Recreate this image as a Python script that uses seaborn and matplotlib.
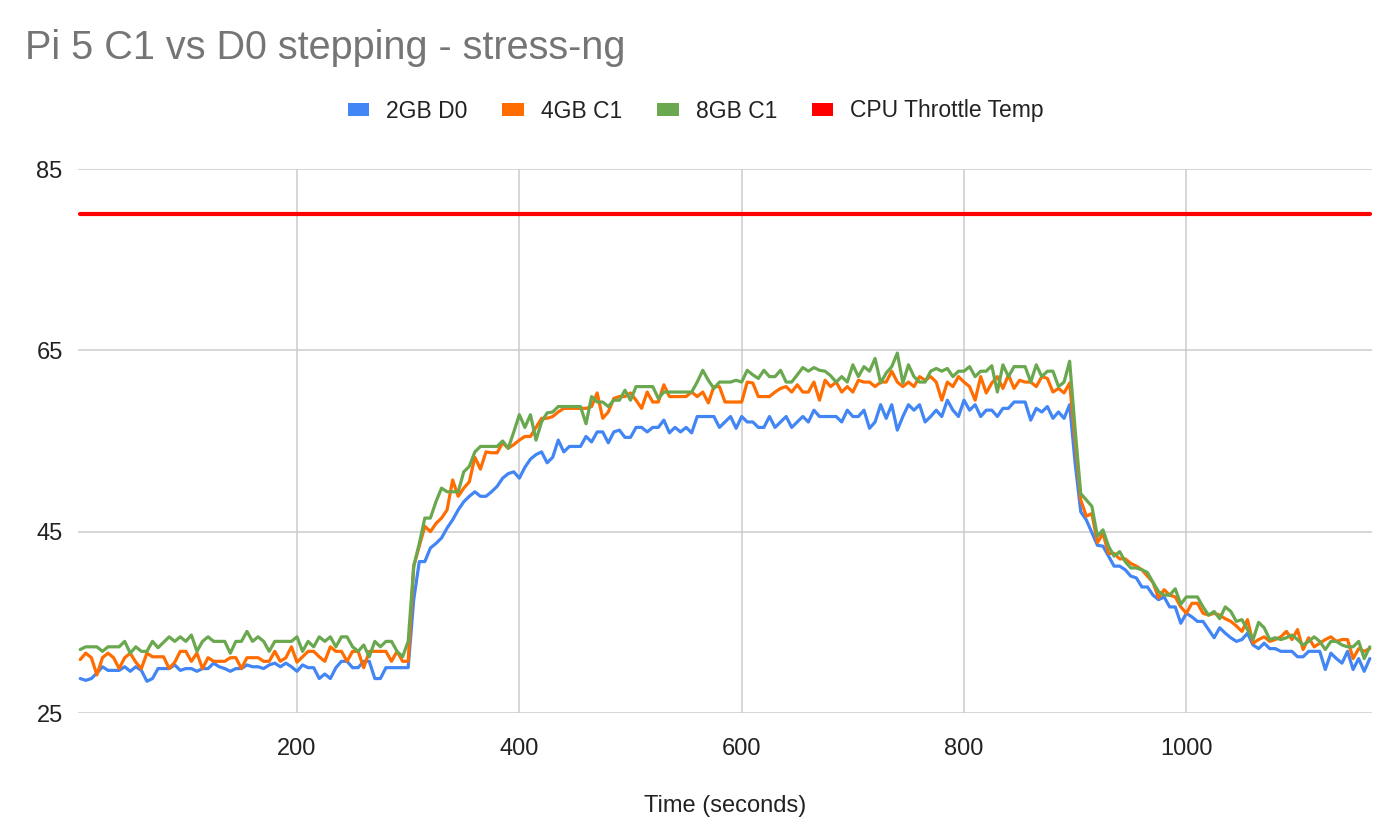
import matplotlib
matplotlib.use("Agg")
import matplotlib.pyplot as plt
from matplotlib.patches import Patch
import seaborn as sns
import pandas as pd

# ---------------- data ----------------
times = list(range(5, 1170, 5))  # sample times (s)

blue_2gb_d0 = [
    28.8, 28.6, 28.8, 29.4, 30.1, 29.7, 29.7, 29.7, 30.1, 29.6,
    30.1, 29.7, 28.5, 28.8, 29.9, 29.9, 29.9, 30.3, 29.7, 29.9,
    29.9, 29.6, 29.9, 29.9, 30.5, 30.1, 29.9, 29.6, 29.9, 29.9,
    30.3, 30.1, 30.1, 29.9, 30.3, 30.5, 30.1, 30.5, 30.1, 29.6,
    30.3, 30.0, 30.0, 28.8, 29.3, 28.8, 30.0, 30.7, 30.7, 30.0,
    30.0, 30.7, 30.7, 28.8, 28.8, 30.0, 30.0, 30.0, 30.0, 30.0,
    37.5, 41.7, 41.7, 43.2, 43.7, 44.3, 45.4, 46.3, 47.4, 48.3,
    48.9, 49.4, 48.9, 48.9, 49.4, 50.0, 50.9, 51.4, 51.6, 50.9,
    52.1, 53.0, 53.5, 53.8, 52.6, 53.2, 55.1, 53.8, 54.4, 54.4,
    54.4, 55.5, 54.9, 56.0, 56.0, 54.8, 56.0, 56.2, 55.4, 55.4,
    56.5, 56.5, 56.0, 56.5, 56.5, 57.3, 55.9, 56.5, 56.0, 56.5,
    55.9, 57.7, 57.7, 57.7, 57.7, 56.5, 57.1, 57.7, 56.4, 57.7,
    57.1, 57.1, 56.5, 56.5, 57.7, 56.5, 57.1, 57.7, 56.5, 57.1,
    57.7, 57.1, 58.4, 57.7, 57.7, 57.7, 57.7, 57.1, 58.4, 57.7,
    57.7, 58.4, 56.4, 57.1, 59.0, 57.5, 59.0, 56.2, 57.7, 59.0,
    58.4, 59.0, 57.1, 57.7, 58.4, 57.7, 59.5, 58.4, 57.7, 59.5,
    58.4, 59.0, 57.7, 58.4, 58.4, 57.7, 58.6, 58.6, 59.3, 59.3,
    59.3, 57.3, 58.6, 58.2, 58.8, 57.5, 58.2, 57.5, 59.0, 52.5,
    47.2, 46.3, 44.9, 43.5, 43.4, 42.3, 41.2, 41.2, 40.8, 40.1,
    39.9, 38.9, 38.9, 38.0, 37.5, 37.8, 36.7, 36.7, 34.9, 36.0,
    35.6, 35.1, 35.1, 34.2, 33.3, 34.4, 33.8, 33.3, 32.9, 33.1,
    33.8, 32.5, 32.1, 32.7, 32.1, 32.1, 31.8, 31.8, 31.8, 31.2,
    31.2, 31.8, 31.8, 31.8, 29.8, 31.6, 31.0, 30.5, 31.8, 29.8,
    31.0, 29.6, 31.0,
]

orange_4gb_c1 = [
    30.9, 31.6, 31.1, 29.2, 31.1, 31.6, 31.1, 29.9, 31.1, 31.6,
    30.6, 29.9, 31.6, 31.2, 31.2, 31.2, 29.9, 30.6, 31.8, 31.8,
    30.7, 31.6, 29.9, 31.1, 30.7, 30.7, 30.7, 31.1, 31.1, 29.9,
    31.1, 31.1, 31.1, 30.7, 30.7, 31.8, 30.7, 31.1, 32.3, 30.6,
    31.2, 31.8, 31.8, 31.2, 30.7, 32.3, 31.8, 31.8, 30.7, 31.8,
    31.8, 30.0, 31.8, 31.8, 31.8, 31.8, 30.7, 31.8, 30.7, 30.7,
    41.2, 43.4, 45.6, 45.0, 45.9, 46.5, 47.4, 50.7, 48.9, 49.8,
    50.5, 53.2, 51.9, 53.8, 53.7, 53.7, 54.8, 54.2, 54.6, 55.1,
    55.5, 55.5, 56.5, 57.5, 57.5, 57.7, 58.2, 58.6, 58.6, 58.6,
    58.6, 58.6, 58.8, 60.3, 57.5, 58.2, 59.7, 59.9, 59.9, 60.3,
    59.5, 58.6, 60.4, 59.3, 59.3, 61.2, 59.9, 59.9, 59.9, 59.9,
    60.4, 59.9, 60.4, 59.2, 61.0, 61.0, 59.3, 59.3, 59.3, 59.3,
    61.5, 61.4, 59.9, 59.9, 59.9, 60.4, 60.8, 61.0, 60.4, 61.2,
    60.4, 60.4, 61.5, 59.5, 61.7, 61.0, 61.5, 60.4, 61.0, 60.4,
    61.7, 61.5, 61.5, 61.0, 61.5, 61.5, 62.7, 61.5, 61.0, 61.5,
    61.0, 62.1, 61.7, 62.1, 61.5, 59.5, 61.5, 61.0, 62.1, 61.5,
    61.0, 59.5, 62.1, 60.3, 61.4, 62.1, 60.8, 62.3, 60.8, 61.7,
    61.5, 61.5, 61.0, 62.1, 61.9, 60.4, 60.8, 60.3, 61.4, 55.0,
    48.5, 46.7, 47.0, 43.8, 44.8, 42.6, 42.6, 42.0, 42.0, 41.5,
    41.2, 40.8, 40.1, 39.4, 37.7, 38.6, 38.0, 37.8, 36.7, 36.0,
    37.1, 37.1, 36.0, 35.8, 36.0, 35.8, 35.4, 35.1, 34.6, 34.0,
    35.3, 32.7, 33.1, 33.4, 32.9, 33.1, 33.4, 34.0, 33.1, 34.2,
    32.0, 33.3, 32.3, 32.7, 33.1, 33.4, 32.9, 33.1, 33.1, 31.0,
    32.1, 31.8, 32.1,
]

green_8gb_c1 = [
    32.0, 32.3, 32.3, 32.3, 31.8, 32.3, 32.3, 32.3, 32.9, 31.6,
    32.3, 31.8, 31.8, 32.9, 32.2, 32.8, 33.4, 32.9, 33.4, 32.9,
    33.6, 31.8, 32.9, 33.4, 32.9, 32.9, 32.9, 31.6, 32.9, 32.9,
    34.0, 32.9, 33.4, 32.9, 31.8, 32.9, 32.9, 32.9, 32.9, 33.4,
    31.8, 32.9, 32.3, 33.4, 32.9, 33.4, 32.3, 33.4, 33.4, 32.3,
    31.8, 32.5, 31.2, 32.9, 32.3, 32.9, 32.9, 31.8, 31.2, 32.9,
    41.2, 43.7, 46.5, 46.5, 48.3, 49.8, 49.4, 49.4, 49.4, 51.6,
    52.2, 53.8, 54.4, 54.4, 54.4, 54.4, 55.0, 54.2, 56.0, 57.9,
    56.5, 57.9, 55.1, 57.1, 58.1, 58.2, 58.8, 58.8, 58.8, 58.8,
    58.8, 56.9, 59.9, 59.3, 59.3, 58.8, 59.5, 59.5, 60.6, 59.5,
    61.0, 61.0, 61.0, 61.0, 59.7, 60.4, 60.4, 60.4, 60.4, 60.4,
    60.4, 61.5, 62.8, 61.7, 60.8, 61.5, 61.5, 61.5, 61.7, 61.5,
    62.8, 62.3, 61.9, 62.8, 62.1, 62.1, 62.8, 61.5, 61.5, 62.3,
    63.1, 62.7, 63.1, 62.8, 62.7, 62.2, 61.5, 62.1, 61.5, 63.4,
    62.1, 63.2, 62.7, 64.1, 61.4, 62.5, 63.2, 64.7, 61.4, 63.4,
    62.1, 61.5, 61.5, 62.7, 63.0, 62.7, 63.0, 62.1, 62.7, 62.7,
    63.2, 62.1, 62.7, 62.7, 63.3, 60.4, 63.4, 62.1, 63.2, 63.2,
    63.2, 61.5, 63.4, 62.1, 62.7, 62.7, 61.0, 61.5, 63.8, 56.2,
    49.2, 48.5, 47.8, 44.5, 45.2, 43.4, 42.3, 42.8, 41.7, 41.0,
    41.0, 40.8, 40.5, 39.4, 38.4, 38.0, 38.0, 38.7, 37.0, 37.8,
    37.8, 37.8, 36.7, 35.8, 36.2, 35.4, 36.7, 36.2, 35.1, 35.3,
    34.2, 33.1, 35.0, 34.4, 33.1, 33.3, 33.1, 33.3, 33.6, 33.1,
    32.5, 32.9, 33.4, 32.9, 32.0, 32.9, 32.9, 32.5, 32.3, 32.3,
    32.9, 31.0, 32.3,
]

throttle_temp = 80.0  # constant CPU throttle threshold

series_names = ["2GB D0", "4GB C1", "8GB C1", "CPU Throttle Temp"]
colors = ["#4285F4", "#FF6D01", "#6AA84F", "#FF0000"]
x_ticks = [200, 400, 600, 800, 1000]
y_ticks = [25, 45, 65, 85]

title_text = "Pi 5 C1 vs D0 stepping - stress-ng"
x_label = "Time (seconds)"

# ---------------- build long-form table ----------------
frames = []
for name, vals in zip(series_names[:3], [blue_2gb_d0, orange_4gb_c1, green_8gb_c1]):
    frames.append(pd.DataFrame({"time": times, "temp": vals, "series": name}))
frames.append(pd.DataFrame({"time": times, "temp": [throttle_temp] * len(times),
                            "series": series_names[3]}))
df = pd.concat(frames, ignore_index=True)

# ---------------- style ----------------
sns.set_theme(style="white")
plt.rcParams["font.family"] = ["Liberation Sans", "DejaVu Sans"]

fig = plt.figure(figsize=(14, 8.38), dpi=100)
ax = fig.add_axes([78 / 1400, 1 - 713 / 838, (1372 - 78) / 1400, (713 - 169) / 838])

palette = dict(zip(series_names, colors))
for name in series_names:
    sub = df[df["series"] == name]
    lw = 3.0 if name == "CPU Throttle Temp" else 2.3
    sns.lineplot(data=sub, x="time", y="temp", color=palette[name], linewidth=lw,
                 ax=ax, legend=False, sort=False, zorder=3)

ax.set_xlim(times[0] - 2, times[-1] + 2)
ax.set_ylim(y_ticks[0], y_ticks[-1])
ax.set_xticks(x_ticks)
ax.set_yticks(y_ticks)
ax.grid(True, color="#cccccc", linewidth=1.1)
ax.set_axisbelow(True)
for s in ax.spines.values():
    s.set_visible(False)
ax.tick_params(axis="both", length=0, labelsize=17, colors="#222222")
ax.tick_params(axis="x", pad=18)
ax.tick_params(axis="y", pad=11)
ax.set_ylabel("")
ax.set_xlabel(x_label, fontsize=17, color="#222222", labelpad=25)

fig.text(25 / 1400, 1 - 48 / 838, title_text, fontsize=28.5, color="#757575",
         ha="left", va="center")

handles = [Patch(facecolor=c, edgecolor="none") for c in colors]
fig.legend(handles, series_names, loc="center", bbox_to_anchor=(0.497, 1 - 111 / 838),
           ncol=4, frameon=False, fontsize=16.5, handlelength=0.95, handleheight=0.5,
           handletextpad=0.75, columnspacing=1.5, labelcolor="#222222")

fig.savefig("out.png", dpi=100, facecolor="white")
